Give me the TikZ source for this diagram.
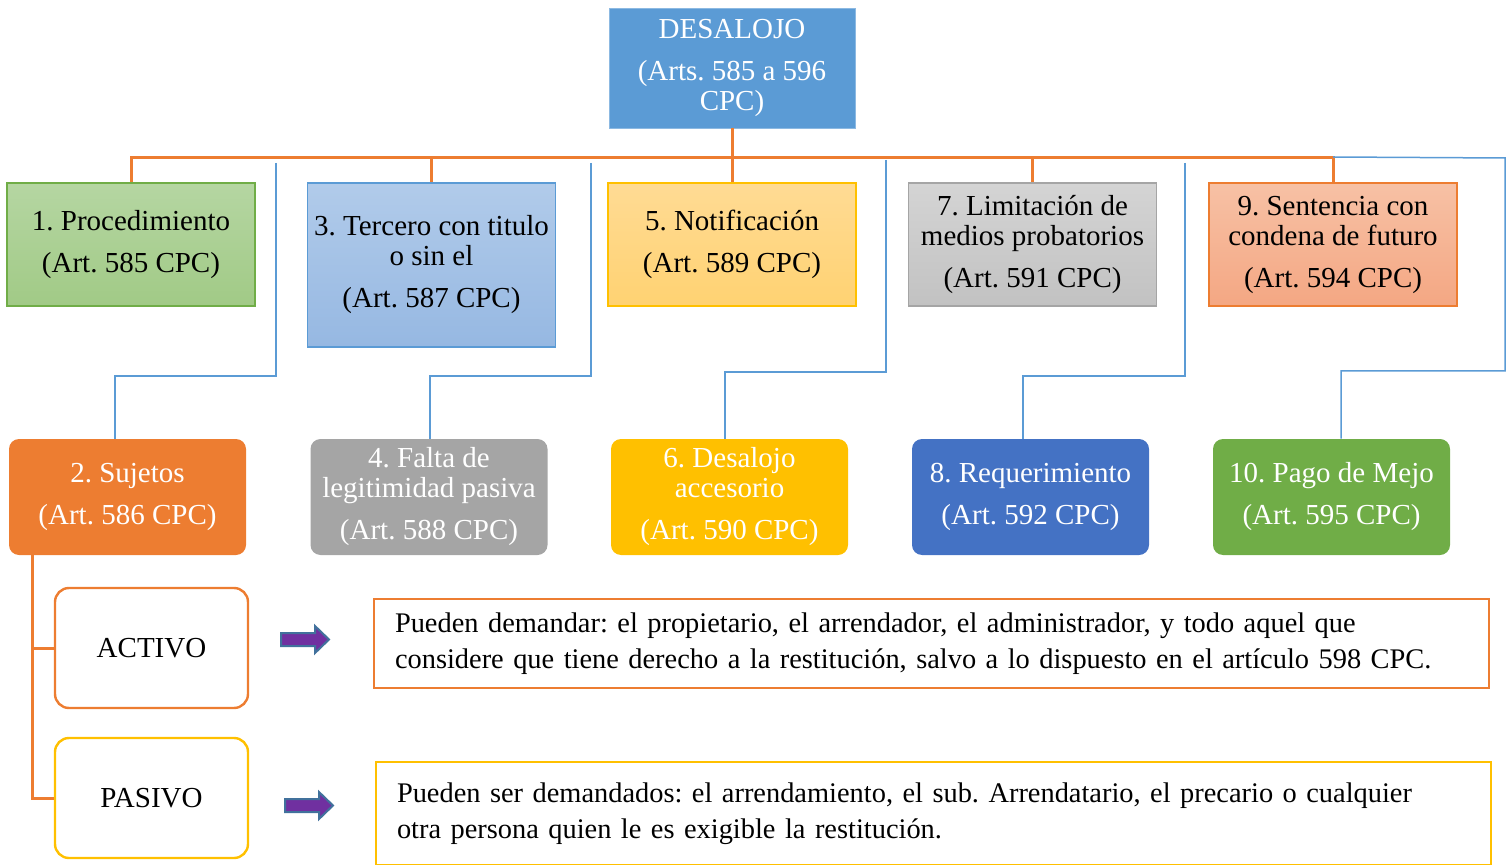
\documentclass[tikz,border=0pt]{standalone}
\usepackage{fontspec}
\setmainfont{Liberation Serif}
\usetikzlibrary{calc}
\frenchspacing
\definecolor{CBlue}{HTML}{5B9BD5}
\definecolor{COrange}{HTML}{ED7D31}
\definecolor{CGreen}{HTML}{70AD47}
\definecolor{CGray}{HTML}{A5A5A5}
\definecolor{CGold}{HTML}{FFC000}
\definecolor{CNavy}{HTML}{4472C4}
\definecolor{CPurple}{HTML}{7030A0}
\definecolor{CSteel}{HTML}{41719C}
\definecolor{GreenTop}{HTML}{B5D6A2}
\definecolor{GreenBot}{HTML}{A1CA86}
\definecolor{BlueTop}{HTML}{B1CBEA}
\definecolor{BlueBot}{HTML}{96B8E2}
\definecolor{GoldTop}{HTML}{FFDB94}
\definecolor{GoldBot}{HTML}{FFD272}
\definecolor{GrayTop}{HTML}{D4D4D4}
\definecolor{GrayBot}{HTML}{C2C2C2}
\definecolor{SalmonTop}{HTML}{F7C1A5}
\definecolor{SalmonBot}{HTML}{F4A783}

\tikzset{
  boxfont/.style={font=\fontsize{14.5}{15}\selectfont},
  topbox/.style={boxfont, rectangle, fill=CBlue, draw=CBlue!70!white, text=white,
    minimum width=123pt, minimum height=60pt, align=center, inner sep=0pt},
  rowbox/.style={boxfont, rectangle, line width=0.6pt, minimum width=124pt,
    minimum height=61.5pt, align=center, inner sep=0pt},
  subbox/.style={boxfont, rectangle, rounded corners=5pt, text=white,
    minimum width=118.5pt, minimum height=58pt, align=center, inner sep=0pt},
  sidebox/.style={boxfont, rectangle, rounded corners=7pt, line width=1.2pt,
    fill=white, minimum width=96.5pt, minimum height=60pt, align=center},
  notebox/.style={font=\fontsize{14.2}{18}\selectfont, rectangle, line width=1pt,
    minimum width=557.5pt, text width=536.5pt, inner xsep=10.5pt, align=left},
  busline/.style={COrange, line width=1.5pt},
  linkline/.style={CBlue, line width=0.75pt},
  pointer/.style={fill=CPurple, draw=CSteel, line width=1pt, line join=miter}
}

\begin{document}
\begin{tikzpicture}[x=0.5pt, y=-0.5pt]
  \useasboundingbox (0,0) rectangle (1507,865);

  % --- top ---
  \node[topbox] (top) at (732,68) {DESALOJO\\[6pt](Arts. 585 a 596\\CPC)};

  % --- first row ---
  \node[rowbox, draw=CGreen, top color=GreenTop, bottom color=GreenBot]
    (b1) at (131,244.5) {1. Procedimiento\\[6pt](Art. 585 CPC)};
  \node[rowbox, draw=CBlue, top color=BlueTop, bottom color=BlueBot, minimum height=82pt]
    (b3) at (431.5,265) {3. Tercero con titulo\\o sin el\\[6pt](Art. 587 CPC)};
  \node[rowbox, draw=CGold, top color=GoldTop, bottom color=GoldBot]
    (b5) at (732,244.5) {5. Notificación\\[6pt](Art. 589 CPC)};
  \node[rowbox, draw=CGray, top color=GrayTop, bottom color=GrayBot]
    (b7) at (1032.5,244.5) {7. Limitación de\\medios probatorios\\[6pt](Art. 591 CPC)};
  \node[rowbox, draw=COrange, top color=SalmonTop, bottom color=SalmonBot]
    (b9) at (1333,244.5) {9. Sentencia con\\condena de futuro\\[6pt](Art. 594 CPC)};

  % --- second row ---
  \node[subbox, fill=COrange] (b2) at (127.5,497) {2. Sujetos\\[6pt](Art. 586 CPC)};
  \node[subbox, fill=CGray] (b4) at (429,497) {4. Falta de\\legitimidad pasiva\\[6pt](Art. 588 CPC)};
  \node[subbox, fill=CGold] (b6) at (729.5,497) {6. Desalojo\\accesorio\\[6pt](Art. 590 CPC)};
  \node[subbox, fill=CNavy] (b8) at (1030.5,497) {8. Requerimiento\\[6pt](Art. 592 CPC)};
  \node[subbox, fill=CGreen] (b10) at (1331.5,497) {10. Pago de Mejo\\[6pt](Art. 595 CPC)};

  % --- orange bus ---
  \draw[busline] (top.south) -- ++(0,29) coordinate (bus);
  \foreach \n in {b1,b3,b5,b7,b9}
    \draw[busline] (bus) -| (\n.north);

  % --- blue elbows ---
  \coordinate (k2) at (276,163);   \coordinate (m2) at (115,376);
  \coordinate (k4) at (591,163);   \coordinate (m4) at (430,376);
  \coordinate (k6) at (886,160);   \coordinate (m6) at (725,372);
  \coordinate (k8) at (1185,163);  \coordinate (m8) at (1023,376);
  \coordinate (k10) at (1333,157); \coordinate (e10) at (1505,158);
  \coordinate (m10) at (1341,371);
  \foreach \i in {2,4,6,8}
    \draw[linkline] (k\i) |- (m\i) -- (m\i |- b\i.north);
  \draw[linkline] (k10) -- (e10) |- (m10) -- (m10 |- b10.north);

  % --- sujetos ---
  \node[sidebox, draw=COrange] (activo) at (151.5,648) {ACTIVO};
  \node[sidebox, draw=CGold] (pasivo) at (151.5,798) {PASIVO};
  \coordinate (trunk) at (32,555);
  \draw[busline] (trunk) |- (activo.west);
  \draw[busline] (trunk) |- (pasivo.west);

  \node[notebox, draw=COrange, minimum height=44.5pt] (nota1) at (931.5,643.5)
    {Pueden demandar: el propietario, el arrendador, el administrador, y todo aquel que\\
     considere que tiene derecho a la restitución, salvo a lo dispuesto en el artículo 598 CPC.};
  \node[notebox, draw=CGold, minimum height=51.5pt] (nota2) at (933.5,813.5)
    {Pueden ser demandados: el arrendamiento, el sub. Arrendatario, el precario o cualquier\\
     otra persona quien le es exigible la restitución.};

  % --- arrows ---
  \foreach \p in {(281,639.5),(285,805.5)}
    \draw[pointer, shift={\p}] (0,-6.5) -- (34,-6.5) -- (34,-13.5) -- (48,0)
      -- (34,13.5) -- (34,6.5) -- (0,6.5) -- cycle;
\end{tikzpicture}
\end{document}
